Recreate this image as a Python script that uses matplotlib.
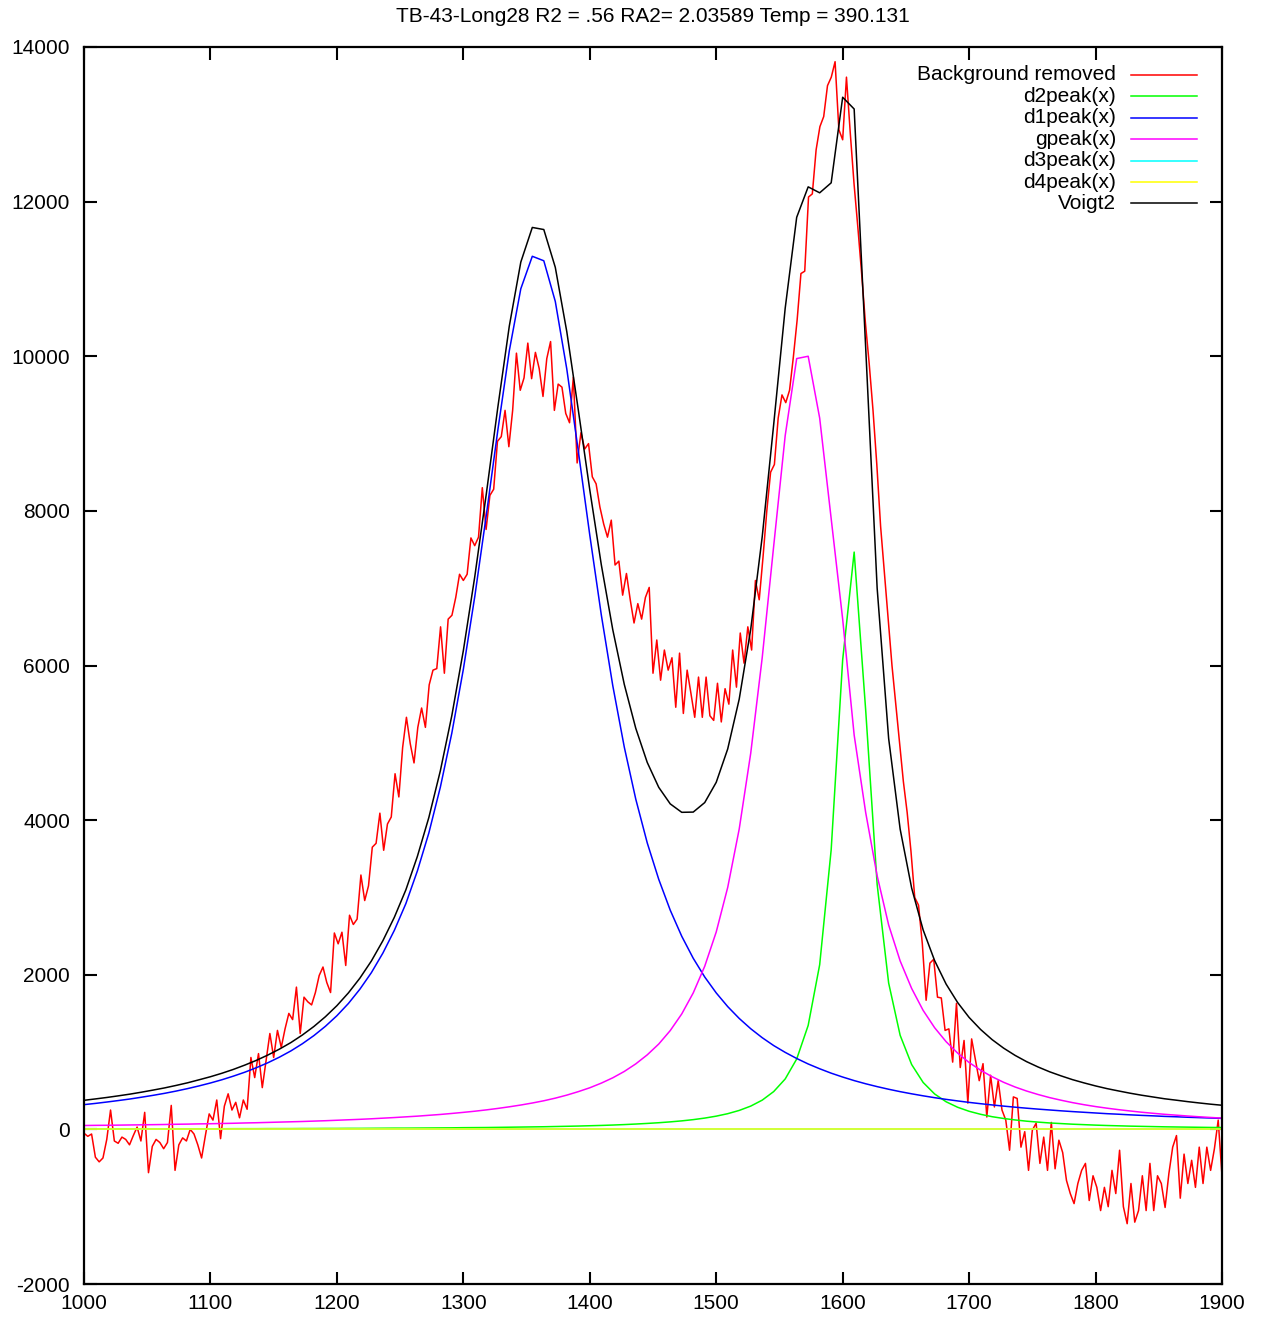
import numpy as np
import matplotlib
matplotlib.use("Agg")
import matplotlib.pyplot as plt

plt.rcParams['font.family'] = ['Liberation Sans', 'DejaVu Sans']
plt.rcParams['axes.unicode_minus'] = False

TITLE = "TB-43-Long28 R2 = .56 RA2= 2.03589 Temp = 390.131"

# background-removed spectrum, read every 3 units
red_x = np.arange(1000, 1901, 3)
red_y = [
    -50, -90, -60, -360, -420, -370, -130, 250, -150, -180,
    -100, -130, -200, -80, 30, -150, 220, -560, -220, -130,
    -170, -250, -170, 310, -530, -200, -110, -150, 0, -60,
    -200, -370, -80, 200, 120, 380, -120, 300, 460, 250,
    350, 150, 380, 260, 930, 670, 980, 540, 890, 1240,
    930, 1280, 1060, 1300, 1500, 1420, 1840, 1240, 1710, 1650,
    1610, 1770, 1990, 2100, 1900, 1770, 2540, 2400, 2550, 2120,
    2770, 2650, 2720, 3290, 2960, 3150, 3650, 3700, 4090, 3610,
    3950, 4040, 4600, 4300, 4940, 5330, 4990, 4740, 5200, 5450,
    5200, 5750, 5940, 5960, 6500, 5900, 6600, 6650, 6880, 7180,
    7100, 7180, 7650, 7550, 7660, 8300, 7760, 8200, 8280, 8900,
    8960, 9300, 8830, 9300, 10040, 9560, 9720, 10170, 9710, 10050,
    9840, 9480, 9970, 10190, 9300, 9640, 9600, 9260, 9140, 9730,
    8620, 9010, 8800, 8870, 8440, 8350, 8050, 7830, 7660, 7880,
    7300, 7350, 6910, 7190, 6850, 6550, 6800, 6600, 6880, 7010,
    5900, 6330, 5810, 6200, 5940, 6100, 5460, 6160, 5380, 5940,
    5640, 5330, 5850, 5330, 5850, 5350, 5290, 5770, 5270, 5700,
    5500, 6200, 5720, 6420, 6030, 6500, 6200, 7100, 6850, 7400,
    8000, 8500, 8600, 9200, 9500, 9400, 9560, 9990, 10470, 11070,
    11100, 12060, 12100, 12670, 12970, 13100, 13500, 13610, 13810, 12930,
    12800, 13610, 12890, 12230, 11670, 11070, 10430, 9900, 9300, 8600,
    7800, 7200, 6600, 6000, 5500, 5000, 4500, 4100, 3600, 3000,
    2900, 2400, 1670, 2150, 2200, 1710, 1700, 1280, 1300, 870,
    1630, 800, 1150, 340, 1170, 900, 630, 850, 160, 700,
    290, 630, 250, 120, -270, 420, 400, -230, -30, -530,
    -10, 80, -440, -100, -530, 90, -510, -140, -300, -660,
    -830, -960, -700, -530, -440, -920, -600, -750, -1050, -750,
    -1000, -530, -830, -270, -1000, -1220, -700, -1200, -1050, -600,
    -1050, -440, -1050, -600, -700, -1010, -570, -230, -80, -890,
    -320, -700, -400, -750, -230, -700, -230, -530, -250, 120,
    -600,
]

# fitted functions, 100 samples over the x range
fit_x = np.linspace(1000, 1900, 100)
d1peak = [
    320, 336, 354, 373, 393, 416, 440, 466, 495, 527,
    562, 600, 642, 689, 740, 798, 862, 934, 1015, 1108,
    1213, 1333, 1470, 1628, 1813, 2027, 2280, 2575, 2920, 3342,
    3834, 4426, 5127, 5950, 6896, 7945, 9042, 10071, 10873, 11293,
    11235, 10709, 9835, 8776, 7687, 6657, 5740, 4946, 4272, 3705,
    3234, 2835, 2498, 2213, 1971, 1765, 1588, 1435, 1302, 1186,
    1084, 996, 917, 846, 784, 727, 677, 631, 590, 553,
    519, 488, 460, 434, 410, 388, 368, 349, 332, 316,
    301, 287, 274, 262, 251, 240, 230, 221, 212, 203,
    196, 188, 181, 175, 168, 163, 157, 152, 147, 142,
]
gpeak = [
    50, 52, 53, 55, 57, 59, 61, 63, 66, 68,
    71, 73, 76, 79, 83, 86, 90, 94, 98, 102,
    107, 112, 118, 124, 130, 137, 145, 153, 162, 171,
    182, 193, 206, 220, 235, 252, 271, 292, 315, 341,
    370, 404, 443, 488, 538, 598, 667, 749, 847, 964,
    1104, 1278, 1493, 1765, 2110, 2553, 3130, 3885, 4864, 6100,
    7546, 8973, 9970, 10000, 9200, 7900, 6600, 5100, 4100, 3280,
    2644, 2179, 1823, 1539, 1315, 1134, 987, 865, 765, 681,
    609, 548, 496, 451, 411, 377, 346, 319, 295, 274,
    255, 238, 222, 208, 195, 184, 173, 163, 154, 146,
]
d2peak = [
    6, 6, 6, 6, 6, 7, 7, 7, 7, 7,
    8, 8, 8, 9, 9, 9, 10, 10, 10, 11,
    11, 12, 12, 13, 13, 14, 15, 16, 16, 17,
    18, 19, 20, 22, 23, 24, 26, 28, 30, 32,
    34, 37, 40, 43, 47, 51, 56, 62, 69, 77,
    86, 97, 110, 126, 146, 171, 203, 245, 301, 378,
    489, 652, 910, 1345, 2130, 3616, 6073, 7467, 5427, 3167,
    1893, 1217, 839, 607, 458, 357, 286, 234, 195, 164,
    141, 122, 106, 94, 83, 75, 67, 61, 55, 50,
    46, 42, 39, 36, 33, 31, 29, 27, 25, 24,
]
d3peak = [0] * 100
d4peak = [0] * 100
voigt2 = [
    376, 394, 413, 434, 456, 481, 508, 536, 568, 602,
    641, 681, 726, 776, 832, 893, 962, 1038, 1123, 1221,
    1331, 1457, 1600, 1765, 1956, 2178, 2440, 2744, 3098, 3530,
    4034, 4638, 5353, 6192, 7154, 8221, 9339, 10391, 11218, 11666,
    11639, 11150, 10318, 9307, 8272, 7306, 6463, 5757, 5188, 4746,
    4424, 4210, 4101, 4104, 4227, 4489, 4921, 5565, 6467, 7664,
    9119, 10621, 11797, 12191, 12114, 12243, 13350, 13198, 10117, 7000,
    5056, 3884, 3122, 2580, 2183, 1879, 1641, 1448, 1292, 1161,
    1051, 957, 876, 807, 745, 692, 643, 601, 562, 527,
    497, 468, 442, 419, 396, 378, 359, 342, 326, 312,
]

labels = ["Background removed", "d2peak(x)", "d1peak(x)", "gpeak(x)",
          "d3peak(x)", "d4peak(x)", "Voigt2"]
colors = ["#ff0000", "#00ff00", "#0000ff", "#ff00ff", "#00ffff", "#ffff00", "#000000"]

fig = plt.figure(figsize=(12.7, 13.19), dpi=100)
ax = fig.add_axes([84 / 1270, 35 / 1319, 1138 / 1270, 1237 / 1319])

ax.plot(red_x, red_y, color=colors[0], lw=1.1)
for ys, c in zip([d2peak, d1peak, gpeak, d3peak, d4peak, voigt2], colors[1:]):
    ax.plot(fit_x, ys, color=c, lw=1.1)

ax.set_xlim(1000, 1900)
ax.set_ylim(-2000, 14000)
ax.set_xticks(range(1000, 1901, 100))
ax.set_yticks(range(-2000, 14001, 2000))
ax.tick_params(direction='in', length=9, width=1.5, top=True, right=True,
               labelsize=15)
ax.tick_params(axis='y', pad=10)
ax.tick_params(axis='x', pad=7)
for s in ax.spines.values():
    s.set_linewidth(1.6)

# gnuplot style key: right aligned text, sample line on the right
for i, (lab, c) in enumerate(zip(labels, colors)):
    yy = (1284 - (75 + 21.4 * i)) / 1237
    ax.text((1116 - 84) / 1138, yy, lab, transform=ax.transAxes,
            ha='right', va='center', fontsize=15)
    ax.plot([(1131 - 84) / 1138, (1197 - 84) / 1138], [yy, yy],
            transform=ax.transAxes, color=c, lw=1.1)

fig.text(653 / 1270, 1 - 16 / 1319, TITLE, ha='center', va='center', fontsize=15)

fig.savefig("out.png", dpi=100)
